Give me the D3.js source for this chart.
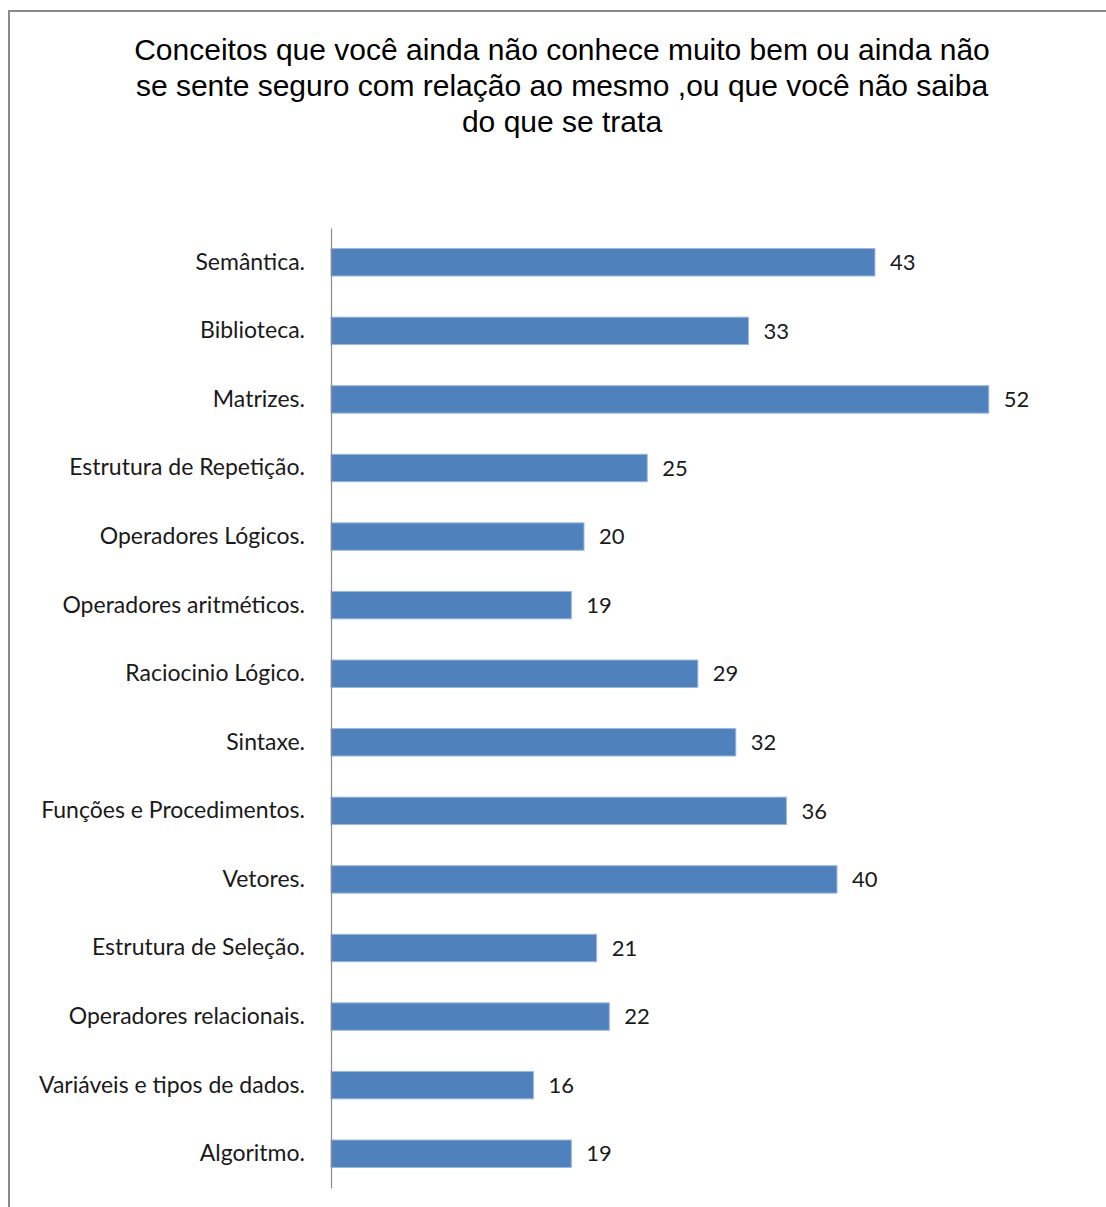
<!DOCTYPE html>
<html>
<head>
<meta charset="utf-8">
<script src="https://cdn.jsdelivr.net/npm/d3@7"></script>
<style>
  html, body { margin: 0; padding: 0; background: #fff; }
  svg { display: block; }
</style>
</head>
<body>
<svg id="chart" width="1106" height="1207"></svg>
<script>
// Topics, top to bottom, and the number of answers for each
const categories = [
  "Semântica.", "Biblioteca.", "Matrizes.", "Estrutura de Repetição.",
  "Operadores Lógicos.", "Operadores aritméticos.", "Raciocinio Lógico.",
  "Sintaxe.", "Funções e Procedimentos.", "Vetores.", "Estrutura de Seleção.",
  "Operadores relacionais.", "Variáveis e tipos de dados.", "Algoritmo."
];
const values = [43, 33, 52, 25, 20, 19, 29, 32, 36, 40, 21, 22, 16, 19];
const titleLines = [
  "Conceitos que você ainda não conhece muito bem ou ainda não",
  "se sente seguro com relação ao mesmo ,ou que você não saiba",
  "do que se trata"
];

const svg = d3.select("#chart");

// Frame around the chart area
svg.append("path")
  .attr("d", "M9,1207 V11 H1106")
  .attr("fill", "none")
  .attr("stroke", "#8a8a8a")
  .attr("stroke-width", 2);

// Title
svg.append("text")
  .attr("x", 562)
  .attr("y", 60)
  .attr("text-anchor", "middle")
  .attr("font-family", "'Liberation Sans', Arial, sans-serif")
  .attr("font-size", 30)
  .attr("fill", "#000")
  .selectAll("tspan")
  .data(titleLines)
  .join("tspan")
  .attr("x", 562)
  .attr("dy", (d, i) => i === 0 ? 0 : 36)
  .text(d => d);

const x = d3.scaleLinear().domain([0, 60]).range([331, 1090]);
const y = d3.scaleBand().domain(categories).range([228, 1188]).paddingInner(0.6).paddingOuter(0.3);

// Bars
svg.append("g")
  .selectAll("rect")
  .data(categories)
  .join("rect")
  .attr("x", x(0))
  .attr("y", d => y(d))
  .attr("width", (d, i) => x(values[i]) - x(0))
  .attr("height", y.bandwidth())
  .attr("fill", "#4F81BD")
  .attr("stroke", "#9DB8DC")
  .attr("stroke-width", 1);

// Category axis
const yAxis = d3.axisLeft(y).tickSize(0).tickPadding(26);
const gAxis = svg.append("g")
  .attr("transform", `translate(${x(0)},0)`)
  .call(yAxis);
gAxis.select(".domain").attr("stroke", "#8c8c8c").attr("stroke-width", 1.2);
gAxis.selectAll("text")
  .attr("font-family", "Lato, 'Open Sans', sans-serif")
  .attr("font-size", 23)
  .attr("fill", "#1a1a1a");

// Value labels
svg.append("g")
  .selectAll("text")
  .data(categories)
  .join("text")
  .attr("x", (d, i) => x(values[i]) + 15)
  .attr("y", d => y(d) + y.bandwidth() / 2)
  .attr("dy", "0.35em")
  .attr("font-family", "Lato, 'Open Sans', sans-serif")
  .attr("font-size", 22)
  .attr("fill", "#1a1a1a")
  .text((d, i) => values[i]);
</script>
</body>
</html>
